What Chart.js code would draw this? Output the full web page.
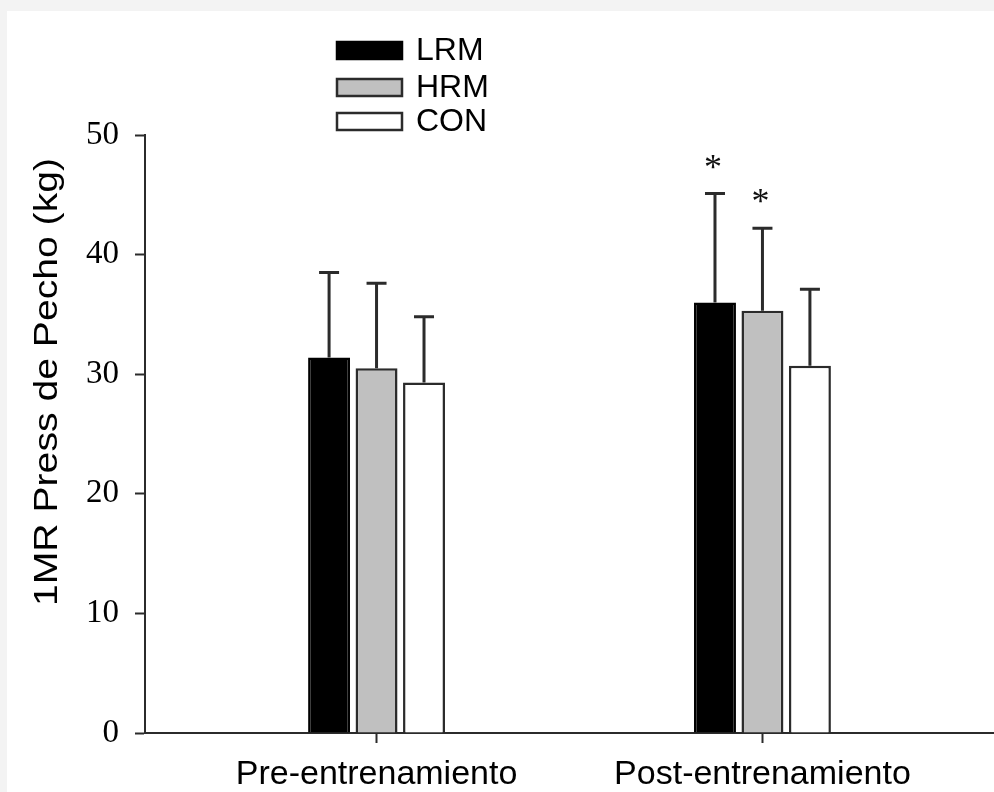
<!DOCTYPE html>
<html><head><meta charset="utf-8">
<script src="https://cdn.jsdelivr.net/npm/chart.js@4"></script>
<style>
html,body{margin:0;padding:0;background:#f3f3f3;width:994px;height:792px;overflow:hidden}
#wrap{position:absolute;left:7px;top:11px;width:987px;height:781px;background:#fff}
canvas{display:block}
</style></head><body>
<div id="wrap"><canvas id="c" width="987" height="781"></canvas></div>
<script>
const categories = ['Pre-entrenamiento', 'Post-entrenamiento'];
const seriesNames = ['LRM', 'HRM', 'CON'];
const lrmMeans = [31.4, 36.0];
const lrmSD = [7.1, 9.1];
const lrmSig = ['', '*'];
const hrmMeans = [30.5, 35.3];
const hrmSD = [7.1, 6.9];
const hrmSig = ['', '*'];
const conMeans = [29.3, 30.7];
const conSD = [5.5, 6.4];
const conSig = ['', ''];
const yTicks = [0, 10, 20, 30, 40, 50];
const yTitle = '1MR Press de Pecho (kg)';

const SANS = '"Liberation Sans", Arial, sans-serif';
const SERIF = '"Liberation Serif", "Times New Roman", serif';
const AXIS = '#2b2b2b';

function mk(label, means, sd, sig, bg, border) {
  return {
    label, data: means.map((v, i) => ({x: i, y: v})), sd, sig,
    backgroundColor: bg, borderColor: border, borderWidth: 2.5
  };
}

const errorBars = {
  id: 'errorBars',
  afterDatasetsDraw(chart) {
    const ctx = chart.ctx, ys = chart.scales.y;
    ctx.save();
    ctx.strokeStyle = AXIS; ctx.lineWidth = 3;
    chart.data.datasets.forEach((ds, di) => {
      const meta = chart.getDatasetMeta(di);
      meta.data.forEach((bar, i) => {
        const v = ds.data[i].y, top = ys.getPixelForValue(v + ds.sd[i]);
        ctx.beginPath();
        ctx.moveTo(bar.x, bar.y); ctx.lineTo(bar.x, top);
        ctx.moveTo(bar.x - 10, top); ctx.lineTo(bar.x + 10, top);
        ctx.stroke();
        if (ds.sig[i]) {
          ctx.fillStyle = '#111';
          ctx.font = '36px ' + SERIF;
          ctx.textAlign = 'center'; ctx.textBaseline = 'alphabetic';
          ctx.fillText(ds.sig[i], bar.x - 2, top - 15);
        }
      });
    });
    ctx.restore();
  }
};

const legendAndTitle = {
  id: 'legendAndTitle',
  afterDraw(chart) {
    const ctx = chart.ctx;
    ctx.save();
    const tops = [31, 68, 102];
    chart.data.datasets.forEach((ds, i) => {
      ctx.fillStyle = ds.backgroundColor;
      ctx.strokeStyle = ds.borderColor; ctx.lineWidth = 2.5;
      ctx.beginPath(); ctx.rect(330, tops[i], 65, 17); ctx.fill(); ctx.stroke();
      ctx.fillStyle = '#000'; ctx.font = '32px ' + SANS;
      ctx.textAlign = 'left'; ctx.textBaseline = 'alphabetic';
      ctx.fillText(ds.label, 409, tops[i] + 18);
    });
    // y axis title
    ctx.translate(41, 371);
    ctx.rotate(-Math.PI / 2);
    ctx.font = '33px ' + SANS;
    const w = ctx.measureText(yTitle).width;
    ctx.scale(448 / w, 1);
    ctx.fillStyle = '#000'; ctx.textAlign = 'center'; ctx.textBaseline = 'middle';
    ctx.fillText(yTitle, 0, 0);
    ctx.restore();
  }
};

new Chart(document.getElementById('c'), {
  type: 'bar',
  data: {
    datasets: [
      mk(seriesNames[0], lrmMeans, lrmSD, lrmSig, '#000000', '#000000'),
      mk(seriesNames[1], hrmMeans, hrmSD, hrmSig, '#c0c0c0', AXIS),
      mk(seriesNames[2], conMeans, conSD, conSig, '#ffffff', AXIS)
    ]
  },
  options: {
    responsive: false, animation: false, devicePixelRatio: 1,
    layout: {padding: {top: 124, left: 0, right: 0, bottom: 0}},
    plugins: {legend: {display: false}, tooltip: {enabled: false}},
    datasets: {bar: {categoryPercentage: 0.369, barPercentage: 0.884}},
    scales: {
      x: {
        type: 'linear', min: -0.6, max: 1.6, offset: false,
        afterBuildTicks: s => { s.ticks = categories.map((_, i) => ({value: i})); },
        afterFit: s => { s.height = 59; },
        grid: {display: true, drawOnChartArea: false, drawTicks: true, tickLength: 10, tickWidth: 2, tickColor: AXIS, offset: false},
        border: {display: true, color: AXIS, width: 2},
        ticks: {callback: v => categories[v] ?? '', font: {family: SANS, size: 34}, color: '#000', padding: 11, maxRotation: 0, autoSkip: false}
      },
      y: {
        min: 0, max: 50,
        afterBuildTicks: s => { s.ticks = yTicks.map(v => ({value: v})); },
        afterFit: s => { s.width = 138; },
        grid: {drawOnChartArea: false, tickLength: 10, tickWidth: 2, tickColor: AXIS},
        border: {color: AXIS, width: 2},
        ticks: {font: {family: SERIF, size: 33}, color: '#000', padding: 16}
      }
    }
  },
  plugins: [errorBars, legendAndTitle]
});
</script>
</body></html>
